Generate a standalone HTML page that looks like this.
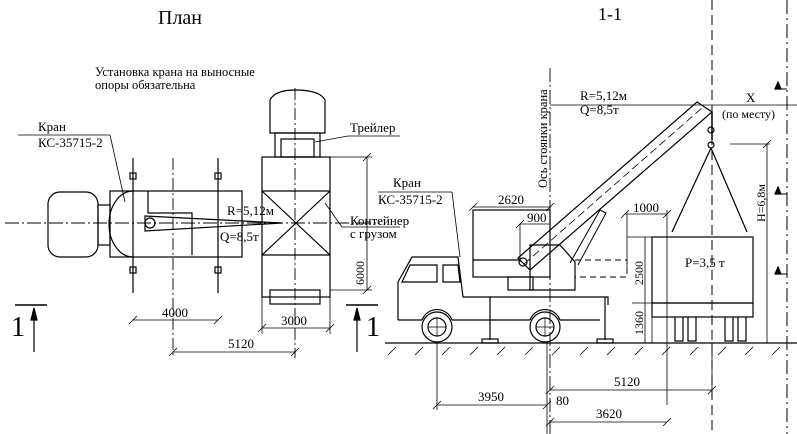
<!DOCTYPE html>
<html><head><meta charset="utf-8"><style>
html,body{margin:0;padding:0;background:#fff}
svg{display:block}
text{font-family:"Liberation Serif",serif;fill:#000}
</style></head><body>
<svg width="797" height="434" viewBox="0 0 797 434" xmlns="http://www.w3.org/2000/svg" stroke="#000" fill="none" stroke-width="1.2">
<!-- titles -->
<text x="158" y="24" font-size="20" stroke="none">План</text>
<text x="598" y="20" font-size="18" stroke="none">1-1</text>
<text x="95" y="76" font-size="12.5" stroke="none">Установка крана на выносные</text>
<text x="95" y="89" font-size="12.5" stroke="none">опоры обязательна</text>

<!-- PLAN -->
<line x1="5" y1="223" x2="380" y2="223" stroke-dasharray="14,3,2,3" stroke-width="0.9"/>
<line x1="173" y1="158" x2="173" y2="358" stroke-dasharray="12,3,2,3" stroke-width="0.9"/>
<line x1="295" y1="88" x2="295" y2="358" stroke-dasharray="12,3,2,3" stroke-width="0.9"/>
<rect x="48" y="192" width="50" height="65" rx="12"/>
<rect x="98" y="205" width="12" height="40"/>
<rect x="110" y="191" width="132" height="66"/>
<path d="M133 191 A24 33 0 0 0 133 257"/>
<path d="M148 191 V213 H192 V255"/>
<path d="M145 216 L282 223 L145 231 Z"/>
<circle cx="150" cy="223" r="5"/>
<line x1="133" y1="158" x2="133" y2="293"/>
<line x1="218" y1="158" x2="218" y2="293"/>
<rect x="130" y="173" width="6" height="6"/><rect x="215" y="173" width="6" height="6"/>
<rect x="130" y="267" width="6" height="6"/><rect x="215" y="267" width="6" height="6"/>
<text x="227" y="215" font-size="13" stroke="none">R=5,12м</text>
<text x="220" y="241" font-size="13" stroke="none">Q=8,5т</text>
<line x1="18" y1="135" x2="110" y2="135" stroke-width="0.8"/>
<line x1="110" y1="135" x2="125" y2="202" stroke-width="0.8"/>
<text x="38" y="131" font-size="13" stroke="none">Кран</text>
<text x="38" y="147" font-size="13" stroke="none">КС-35715-2</text>
<!-- trailer plan -->
<path d="M270 133 L270 100 Q275 90 295 90 Q320 90 325 100 L325 133 Z"/>
<rect x="275" y="133" width="45" height="24"/>
<rect x="281" y="139" width="33" height="18"/>
<rect x="262" y="157" width="68" height="140"/>
<line x1="262" y1="191" x2="330" y2="255"/><line x1="330" y1="191" x2="262" y2="255"/>
<line x1="262" y1="191" x2="330" y2="191"/><line x1="262" y1="255" x2="330" y2="255"/>
<rect x="270" y="290" width="50" height="14"/>
<line x1="315" y1="142" x2="348" y2="136" stroke-width="0.8"/>
<line x1="348" y1="136" x2="400" y2="136" stroke-width="0.8"/>
<text x="350" y="132" font-size="13" stroke="none">Трейлер</text>
<line x1="325" y1="203" x2="342" y2="227" stroke-width="0.8"/>
<line x1="342" y1="227" x2="400" y2="227" stroke-width="0.8"/>
<text x="350" y="225" font-size="13" stroke="none">Контейнер</text>
<text x="350" y="238" font-size="13" stroke="none">с грузом</text>
<!-- plan dims -->
<line x1="330" y1="157" x2="372" y2="157" stroke-width="0.8"/>
<line x1="330" y1="290" x2="372" y2="290" stroke-width="0.8"/>
<line x1="367" y1="157" x2="367" y2="290" stroke-width="0.8"/>
<text transform="translate(364,285) rotate(-90)" font-size="12" stroke="none">6000</text>
<line x1="133" y1="320" x2="218" y2="320" stroke-width="0.8"/>
<text x="162" y="317" font-size="13" stroke="none">4000</text>
<line x1="262" y1="328" x2="330" y2="328" stroke-width="0.8"/>
<line x1="262" y1="297" x2="262" y2="334" stroke-width="0.8"/><line x1="330" y1="297" x2="330" y2="334" stroke-width="0.8"/>
<text x="281" y="325" font-size="13" stroke="none">3000</text>
<line x1="173" y1="352" x2="295" y2="352" stroke-width="0.8"/>
<text x="228" y="348" font-size="13" stroke="none">5120</text>
<path d="M129 324 l8 -8 M214 324 l8 -8 M258 332 l8 -8 M326 332 l8 -8 M169 356 l8 -8 M291 356 l8 -8 M363 161 l8 -8 M363 294 l8 -8" stroke-width="0.8"/>
<!-- section marks -->
<line x1="15" y1="305" x2="47" y2="305" stroke-width="1.6"/>
<line x1="34" y1="310" x2="34" y2="352" stroke-width="1.2"/>
<path d="M31 320 L34 308 L37 320 Z" fill="#000"/>
<text x="11" y="336" font-size="28" stroke="none">1</text>
<line x1="346" y1="305" x2="378" y2="305" stroke-width="1.6"/>
<line x1="357" y1="310" x2="357" y2="352" stroke-width="1.2"/>
<path d="M354 320 L357 308 L360 320 Z" fill="#000"/>
<text x="366" y="336" font-size="28" stroke="none">1</text>

<!-- SECTION 1-1 -->
<line x1="385" y1="343" x2="797" y2="343"/>
<g stroke-width="0.8">
<path d="M388 355 l8 -8 M415 355 l8 -8 M442 355 l8 -8 M470 355 l8 -8 M497 355 l8 -8 M525 355 l8 -8 M552 355 l8 -8 M580 355 l8 -8 M607 355 l8 -8 M635 355 l8 -8 M662 355 l8 -8 M690 355 l8 -8 M718 355 l8 -8 M745 355 l8 -8 M772 355 l8 -8"/>
</g>
<line x1="550" y1="68" x2="550" y2="434" stroke-dasharray="14,3,2,3" stroke-width="0.9"/>
<line x1="712" y1="0" x2="712" y2="434" stroke-dasharray="10,5" stroke-width="1"/>
<line x1="787" y1="0" x2="787" y2="434" stroke-dasharray="14,4,2,4" stroke-width="1"/>
<line x1="550" y1="105" x2="797" y2="105" stroke-width="0.8"/>
<text x="580" y="100" font-size="13" stroke="none">R=5,12м</text>
<text x="580" y="114" font-size="13" stroke="none">Q=8,5т</text>
<text x="746" y="102" font-size="13" stroke="none">X</text>
<text x="722" y="118" font-size="12" stroke="none">(по месту)</text>
<text transform="translate(547,188) rotate(-90)" font-size="12.5" stroke="none">Ось стоянки крана</text>
<!-- level marks -->
<path d="M777 89 h10 M777 194 h10 M777 274 h10" stroke-width="1"/>
<path d="M775 89 L778 82 L781 89 Z M775 194 L778 187 L781 194 Z M775 274 L778 267 L781 274 Z" fill="#000"/>
<!-- truck -->
<path d="M398 320 L398 282 L412 257 L458 257 L463 297 L608 297 L608 305"/>
<path d="M402 282 L410 265 L437 265 L437 282 Z"/>
<path d="M443 265 L458 265 L460 282 L443 282 Z"/>
<line x1="398" y1="320" x2="422" y2="320"/>
<line x1="452" y1="320" x2="530" y2="320"/>
<path d="M422 320 A16 16 0 0 1 452 320"/>
<path d="M530 320 A16 16 0 0 1 560 320"/>
<line x1="560" y1="320" x2="600" y2="320"/>
<circle cx="437" cy="327" r="15"/><circle cx="437" cy="327" r="9"/>
<circle cx="545" cy="327" r="15"/><circle cx="545" cy="327" r="9"/>
<path d="M437 318 v18 M428 327 h18 M545 318 v18 M536 327 h18" stroke-width="0.7"/>
<!-- outriggers -->
<line x1="490" y1="297" x2="490" y2="340"/><rect x="482" y="339" width="16" height="4"/>
<line x1="605" y1="297" x2="605" y2="340"/><rect x="597" y="339" width="16" height="4"/>
<!-- crane cabin & turret -->
<rect x="473" y="210" width="77" height="67"/>
<line x1="473" y1="260" x2="520" y2="260"/>
<rect x="508" y="277" width="25" height="13"/>
<path d="M530 290 L530 245 L560 245 L575 262 L575 290 Z"/>
<!-- boom -->
<path d="M518 258 L697 102 L712 112 L530 270 Z"/>
<line x1="524" y1="264" x2="702" y2="108" stroke-dasharray="8,4" stroke-width="0.8"/>
<circle cx="523" cy="262" r="4"/>
<path d="M570 263 L600 210 L606 213 L578 265" stroke-width="1"/>
<path d="M712 112 L712 140" stroke-width="1.5"/>
<circle cx="711" cy="130" r="3"/><circle cx="711" cy="145" r="3"/>
<!-- slings -->
<line x1="711" y1="148" x2="672" y2="232"/>
<line x1="711" y1="148" x2="747" y2="232"/>
<!-- dashed reach -->
<path d="M575 260 H627 V277 H575" stroke-dasharray="6,4" stroke-width="0.9"/>
<!-- container -->
<rect x="652" y="237" width="101" height="66"/>
<text x="685" y="267" font-size="13" stroke="none">Р=3,5 т</text>
<rect x="652" y="303" width="101" height="14"/>
<path d="M675 317 v24 h8 v-24 M688 317 v24 h8 v-24 M725 317 v24 h8 v-24 M738 317 v24 h8 v-24"/>
<!-- dims right -->
<line x1="652" y1="237" x2="627" y2="237" stroke-width="0.8"/>
<line x1="652" y1="303" x2="632" y2="303" stroke-width="0.8"/>
<line x1="652" y1="303" x2="652" y2="343" stroke-width="0.8"/>
<line x1="645" y1="237" x2="645" y2="343" stroke-width="0.8"/>
<text transform="translate(643,285) rotate(-90)" font-size="12" stroke="none">2500</text>
<text transform="translate(643,335) rotate(-90)" font-size="12" stroke="none">1360</text>
<line x1="625" y1="214" x2="667" y2="214" stroke-width="0.8"/>
<line x1="667" y1="210" x2="667" y2="405" stroke-width="0.8"/>
<line x1="627" y1="214" x2="627" y2="270" stroke-width="0.8"/>
<text x="633" y="212" font-size="13" stroke="none">1000</text>
<line x1="730" y1="144" x2="770" y2="144" stroke-width="0.8"/>
<line x1="767" y1="144" x2="767" y2="343" stroke-width="0.8"/>
<text transform="translate(765,222) rotate(-90)" font-size="12" stroke="none">Н=6,8м</text>
<line x1="473" y1="207" x2="550" y2="207" stroke-width="0.8"/>
<text x="498" y="204" font-size="13" stroke="none">2620</text>
<line x1="520" y1="224" x2="550" y2="224" stroke-width="0.8"/>
<line x1="520" y1="224" x2="520" y2="262" stroke-width="0.8"/>
<text x="527" y="222" font-size="13" stroke="none">900</text>
<line x1="378" y1="192" x2="452" y2="192" stroke-width="0.8"/>
<line x1="452" y1="192" x2="460" y2="257" stroke-width="0.8"/>
<text x="393" y="187" font-size="13" stroke="none">Кран</text>
<text x="378" y="204" font-size="13" stroke="none">КС-35715-2</text>
<path d="M469 211 l8 -8 M546 211 l8 -8 M621 218 l8 -8 M663 218 l8 -8 M763 148 l8 -8 M516 228 l8 -8" stroke-width="0.8"/>
<!-- bottom dims -->
<line x1="437" y1="343" x2="437" y2="410" stroke-width="0.8"/>
<line x1="550" y1="390" x2="712" y2="390" stroke-width="0.8"/>
<line x1="712" y1="343" x2="712" y2="392" stroke-width="0.8"/>
<text x="614" y="386" font-size="13" stroke="none">5120</text>
<line x1="437" y1="405" x2="547" y2="405" stroke-width="0.8"/>
<text x="478" y="401" font-size="13" stroke="none">3950</text>
<text x="556" y="405" font-size="13" stroke="none">80</text>
<line x1="547" y1="343" x2="547" y2="434" stroke-width="0.8"/>
<line x1="550" y1="422" x2="667" y2="422" stroke-width="0.8"/>
<text x="596" y="418" font-size="13" stroke="none">3620</text>
<path d="M433 409 l8 -8 M543 409 l8 -8 M546 426 l8 -8 M663 426 l8 -8 M708 394 l8 -8 M546 394 l8 -8" stroke-width="0.8"/>
</svg>
</body></html>
